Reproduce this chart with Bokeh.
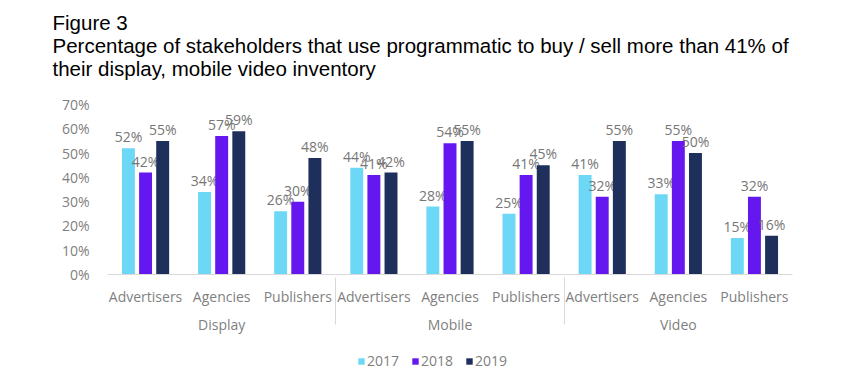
from bokeh.plotting import figure
from bokeh.layouts import column
from bokeh.models import (FactorRange, Range1d, ColumnDataSource, Legend, LegendItem,
                          Title, FixedTicker, PrintfTickFormatter)
from bokeh.transform import dodge
from bokeh.core.properties import value
from bokeh.embed import file_html
from bokeh.resources import INLINE

# ---- data ----
channels = ["Display", "Mobile", "Video"]
stakeholders = ["Advertisers", "Agencies", "Publishers"]
years = ["2017", "2018", "2019"]
v2017 = [52, 34, 26, 44, 28, 25, 41, 33, 15]
v2018 = [42, 57, 30, 41, 54, 41, 32, 55, 32]
v2019 = [55, 59, 48, 42, 55, 45, 55, 50, 16]
y_ticks = [0, 10, 20, 30, 40, 50, 60, 70]
title_lines = ["Figure 3",
               "Percentage of stakeholders that use programmatic to buy / sell more than 41% of",
               "their display, mobile video inventory"]

colors = ["#6DD8F6", "#6517EF", "#1F2F5C"]
GREY = "#7f7f7f"
FONT = "Open Sans"
TFONT = "Liberation Sans"

factors = [(c, s) for c in channels for s in stakeholders]
src = ColumnDataSource(dict(
    x=factors,
    v2017=v2017, v2018=v2018, v2019=v2019,
    l2017=[f"{v}%" for v in v2017],
    l2018=[f"{v}%" for v in v2018],
    l2019=[f"{v}%" for v in v2019],
))

xr = FactorRange(*factors, factor_padding=0, group_padding=0, range_padding=0)
p = figure(width=850, height=346, x_range=xr, y_range=Range1d(0, 70),
           output_backend="svg", toolbar_location=None,
           min_border_left=107, min_border_right=58, min_border_top=104, min_border_bottom=72)

offsets = [-0.225, 0.0, 0.225]
for yr, off, col in zip(years, offsets, colors):
    xd = dodge("x", off, range=p.x_range)
    p.vbar(x=xd, top="v" + yr, width=0.17, source=src, fill_color=col, line_color=None)
    p.text(x=xd, y="v" + yr, text="l" + yr, source=src, text_align="center",
           text_baseline="bottom", y_offset=-2, text_font=value(FONT),
           text_font_size="14px", text_color="#767676")

# multi-line title (trailing blank line keeps a gap above the plot area)
p.add_layout(Title(text="\n".join(title_lines) + "\n ", align="left", offset=-55,
                   text_font=TFONT, text_font_size="20.5px", text_font_style="normal",
                   text_line_height=1.0, text_color="#000000", standoff=4), "above")

# axes
p.yaxis.ticker = FixedTicker(ticks=y_ticks)
p.yaxis.formatter = PrintfTickFormatter(format="%d%%")
p.yaxis.axis_line_color = None
p.yaxis.major_tick_line_color = None
p.yaxis.minor_tick_line_color = None
p.yaxis.major_label_text_font = FONT
p.yaxis.major_label_text_font_size = "14px"
p.yaxis.major_label_text_color = GREY
p.yaxis.major_label_standoff = 12

xa = p.xaxis[0]
xa.axis_line_color = "#d9d9d9"
xa.major_tick_line_color = None
xa.minor_tick_line_color = None
xa.major_label_text_font = FONT
xa.major_label_text_font_size = "14px"
xa.major_label_text_color = GREY
xa.major_label_standoff = 6
xa.group_text_font = FONT
xa.group_text_font_size = "14px"
xa.group_text_color = GREY
xa.group_text_font_style = "normal"
xa.separator_line_color = "#d9d9d9"
xa.separator_line_width = 1

p.xgrid.grid_line_color = None
p.ygrid.grid_line_color = None
p.outline_line_color = None

# legend strip (separate small figure below the chart, proxies hidden)
lf = figure(width=850, height=30, x_range=p.x_range, y_range=Range1d(0, 1),
            x_axis_type=None, y_axis_type=None, output_backend="svg", toolbar_location=None,
            min_border_left=0, min_border_right=0, min_border_top=0, min_border_bottom=0)
lf.outline_line_color = None
leg_renderers = [lf.vbar(x="x", top="v" + yr, width=0.17, source=src, fill_color=c,
                         line_color=None, visible=False)
                 for yr, c in zip(years, colors)]
legend = Legend(items=[LegendItem(label=y, renderers=[r]) for y, r in zip(years, leg_renderers)],
                orientation="horizontal", location=(250, 6),
                label_text_font=FONT, label_text_font_size="14px", label_text_color=GREY,
                glyph_width=8, glyph_height=8, label_standoff=2, spacing=12,
                border_line_color=None, background_fill_alpha=0, padding=0, margin=0)
lf.add_layout(legend)

layout = column(p, lf, spacing=0)
open("out.html", "w").write(file_html(layout, INLINE))
